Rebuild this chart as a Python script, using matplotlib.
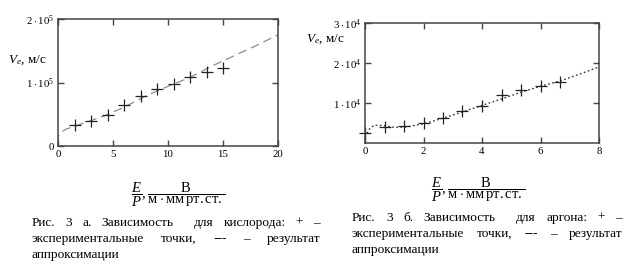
import matplotlib
matplotlib.use('Agg')
import matplotlib.pyplot as plt

plt.rcParams['font.family'] = ['Liberation Serif', 'DejaVu Serif']
plt.rcParams['mathtext.fontset'] = 'custom'
plt.rcParams['mathtext.rm'] = 'Liberation Serif'
plt.rcParams['mathtext.it'] = 'Liberation Serif:italic'

# кислород (рис. 3 а)
o2_x = [1.5, 3, 4.5, 6, 7.5, 9, 10.5, 12, 13.5, 15]
o2_y = [0.33e5, 0.40e5, 0.49e5, 0.64e5, 0.79e5, 0.89e5, 0.98e5, 1.08e5, 1.17e5, 1.23e5]
o2_fit_x = [0, 0.05, 0.3, 0.8, 2, 4, 6, 8, 10, 12, 14, 16, 18, 20]
o2_fit_y = [0.04e5, 0.16e5, 0.22e5, 0.27e5, 0.34e5, 0.46e5, 0.61e5, 0.79e5, 0.94e5, 1.08e5,
            1.26e5, 1.42e5, 1.58e5, 1.75e5]

# аргон (рис. 3 б)
ar_x = [0, 0.67, 1.33, 2, 2.67, 3.33, 4, 4.67, 5.33, 6, 6.67]
ar_y = [0.25e4, 0.40e4, 0.42e4, 0.51e4, 0.62e4, 0.81e4, 0.92e4, 1.21e4, 1.32e4, 1.43e4, 1.53e4]
ar_fit_x = [0, 0.15, 0.3, 0.6, 1.0, 1.4, 2, 2.67, 3.33, 4, 4.67, 5.33, 6, 6.67, 7.33, 8]
ar_fit_y = [0.15e4, 0.35e4, 0.44e4, 0.44e4, 0.39e4, 0.40e4, 0.48e4, 0.62e4, 0.78e4, 0.94e4,
            1.10e4, 1.27e4, 1.42e4, 1.55e4, 1.72e4, 1.90e4]

W, H = 636, 278
fig = plt.figure(figsize=(W / 100, H / 100), dpi=100)


def px_axes(x0, y0, x1, y1):
    return fig.add_axes([x0 / W, 1 - y1 / H, (x1 - x0) / W, (y1 - y0) / H])


def style(ax):
    for s in ax.spines.values():
        s.set_color('#444444')
        s.set_linewidth(1.1)
    ax.tick_params(direction='in', length=4.5, width=1.0, color='#444444',
                   top=True, right=True, labelsize=7.8, pad=3)


# левый график
ax1 = px_axes(58, 19, 278, 146)
ax1.plot(o2_fit_x, o2_fit_y, color='#8c8c8c', lw=0.9, ls=(0, (7, 4)))
ax1.plot(o2_x, o2_y, '+', color='#222222', ms=8, mew=0.9)
ax1.set_xlim(0, 20)
ax1.set_ylim(0, 2e5)
ax1.set_xticks([0, 5, 10, 15, 20])
ax1.set_yticks([0, 1e5, 2e5])
ax1.set_yticklabels(['0', r'$1\cdot10^5$', r'$2\cdot10^5$'])
style(ax1)

# правый график
ax2 = px_axes(365, 23, 599, 143)
ax2.plot(ar_fit_x, ar_fit_y, color='#333333', lw=1.0, ls=(0, (1.2, 1.8)))
ax2.plot(ar_x, ar_y, '+', color='#222222', ms=8, mew=0.9, clip_on=False)
ax2.set_xlim(0, 8)
ax2.set_ylim(0, 3e4)
ax2.set_xticks([0, 2, 4, 6, 8])
ax2.set_yticks([1e4, 2e4, 3e4])
ax2.set_yticklabels([r'$1\cdot10^4$', r'$2\cdot10^4$', r'$3\cdot10^4$'])
style(ax2)

# подписи осей
fig.text(8 / W, 1 - 60 / H, r'$V_e$, м/с', fontsize=9.5, va='center', ha='left')
fig.text(306 / W, 1 - 39 / H, r'$V_e$, м/с', fontsize=9.5, va='center', ha='left')
xlab = r'$\dfrac{E}{P},\dfrac{\mathrm{В}}{\mathrm{м\cdot мм\,рт.ст.}}$'
fig.text(178 / W, 1 - 195 / H, xlab, fontsize=10.5, ha='center', va='center')
fig.text(478 / W, 1 - 190 / H, xlab, fontsize=10.5, ha='center', va='center')

# подписи рисунков (выравнивание по ширине)
renderer = fig.canvas.get_renderer()
CAP_FS = 9.6


def justify(line, x0, x1, y, fs=CAP_FS):
    words = line.split(' ')
    objs = [fig.text(0, 1 - y / H, w, fontsize=fs, va='baseline', ha='left') for w in words]
    widths = [o.get_window_extent(renderer).width if w else 0 for o, w in zip(objs, words)]
    gap = (x1 - x0 - sum(widths)) / max(len(words) - 1, 1)
    x = x0
    for o, w in zip(objs, widths):
        o.set_x(x / W)
        x += w + gap


justify('Рис. 3 а. Зависимость  для кислорода: + –', 32, 320, 226)
justify('экспериментальные точки, --- – результат', 32, 320, 242)
fig.text(32 / W, 1 - 258 / H, 'аппроксимации', fontsize=CAP_FS, va='baseline')

justify('Рис. 3 б. Зависимость  для аргона: + –', 352, 622, 221)
justify('экспериментальные точки, --- – результат', 352, 622, 237)
fig.text(352 / W, 1 - 253 / H, 'аппроксимации', fontsize=CAP_FS, va='baseline')

fig.savefig('out.png', dpi=100)
